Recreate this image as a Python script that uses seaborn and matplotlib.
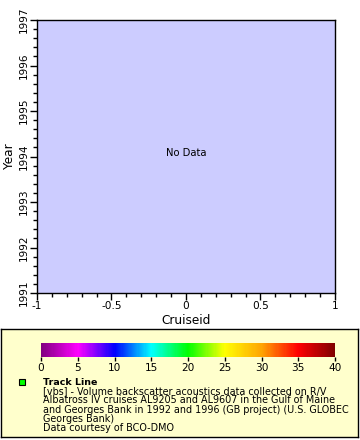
import numpy as np
import matplotlib
matplotlib.use("Agg")
import matplotlib.pyplot as plt
import seaborn as sns
from matplotlib.colors import LinearSegmentedColormap, Normalize
from matplotlib.ticker import MultipleLocator

# axis ranges / ticks
cruise_range = [-1, 1]
year_range = [1991, 1997]
cruise_ticks = [-1, -0.5, 0, 0.5, 1]
cruise_ticklabels = ["-1", "-0.5", "0", "0.5", "1"]
year_ticks = [1991, 1992, 1993, 1994, 1995, 1996, 1997]

# colour bar (rainbow palette, 0..40)
cbar_ticks = [0, 5, 10, 15, 20, 25, 30, 35, 40]
cbar_colors = ["#800080", "#ff00ff", "#0000ff", "#00ffff", "#00ff00",
               "#ffff00", "#ffa500", "#ff0000", "#800000"]

# no points in this query
cruise_values = []
year_values = []

legend_title = "Track Line"
legend_lines = [
    "[vbs] - Volume backscatter acoustics data collected on R/V",
    "Albatross IV cruises AL9205 and AL9607 in the Gulf of Maine",
    "and Georges Bank in 1992 and 1996 (GB project) (U.S. GLOBEC",
    "Georges Bank)",
    "Data courtesy of BCO-DMO",
]

sns.set_style("white")
plt.rcParams['font.family'] = ['DejaVu Sans']
plt.rcParams['text.color'] = 'black'
plt.rcParams['axes.labelcolor'] = 'black'
plt.rcParams['xtick.color'] = 'black'
plt.rcParams['ytick.color'] = 'black'

W, H = 360, 440
fig = plt.figure(figsize=(W / 100, H / 100), dpi=100)
fig.patch.set_facecolor("white")

# main plot area
ax = fig.add_axes([37 / W, (H - 293) / H, 298 / W, 273 / H])
ax.set_facecolor("#ccccff")
sns.scatterplot(x=cruise_values, y=year_values, ax=ax, color="#00ff00")
ax.set_xlim(*cruise_range)
ax.set_ylim(*year_range)
ax.set_xticks(cruise_ticks)
ax.set_xticklabels(cruise_ticklabels)
ax.set_yticks(year_ticks)
ax.set_yticklabels([str(y) for y in year_ticks], rotation=90, va="center")
ax.xaxis.set_minor_locator(MultipleLocator(0.1))
ax.yaxis.set_minor_locator(MultipleLocator(0.2))
ax.tick_params(which="major", direction="out", length=5, width=1,
               labelsize=7.6, pad=1, left=True, bottom=True)
ax.tick_params(which="minor", direction="out", length=3, width=1,
               left=True, bottom=True)
for s in ax.spines.values():
    s.set_color("black")
    s.set_linewidth(1)
ax.set_xlabel("Cruiseid", fontsize=8.7, labelpad=2)
ax.set_ylabel("Year", fontsize=8.7, labelpad=2)
ax.text(0.5, 0.513, "No Data", transform=ax.transAxes, ha="center", va="center",
        fontsize=7.2)

# legend box
lax = fig.add_axes([1 / W, (H - 437) / H, 357 / W, 108 / H])
lax.set_facecolor("#ffffcc")
lax.set_xticks([])
lax.set_yticks([])
lax.set_xlim(0, 357)
lax.set_ylim(437, 329)
for s in lax.spines.values():
    s.set_color("black")
    s.set_linewidth(1)
lax.plot([21], [382], marker="s", markersize=4.5, markerfacecolor="#00ff00",
         markeredgecolor="black", markeredgewidth=0.8, linestyle="none")
lax.text(42, 382, legend_title, fontsize=6.8, fontweight="bold", va="center", ha="left")
for i, line in enumerate(legend_lines):
    lax.text(42, 391.2 + i * 9.2, line, fontsize=6.9, va="center", ha="left")

# colour bar
cax = fig.add_axes([41 / W, (H - 357) / H, 294 / W, 14 / H])
cmap = LinearSegmentedColormap.from_list(
    "rainbow2", list(zip(np.linspace(0, 1, len(cbar_colors)), cbar_colors)))
cb = matplotlib.colorbar.ColorbarBase(cax, cmap=cmap,
                                      norm=Normalize(cbar_ticks[0], cbar_ticks[-1]),
                                      orientation="horizontal", ticks=cbar_ticks)
cb.outline.set_visible(False)
cax.tick_params(direction="out", length=3, width=1, labelsize=7.6, pad=1)
cb.set_ticklabels([str(t) for t in cbar_ticks])

fig.savefig("out.png", dpi=100)
